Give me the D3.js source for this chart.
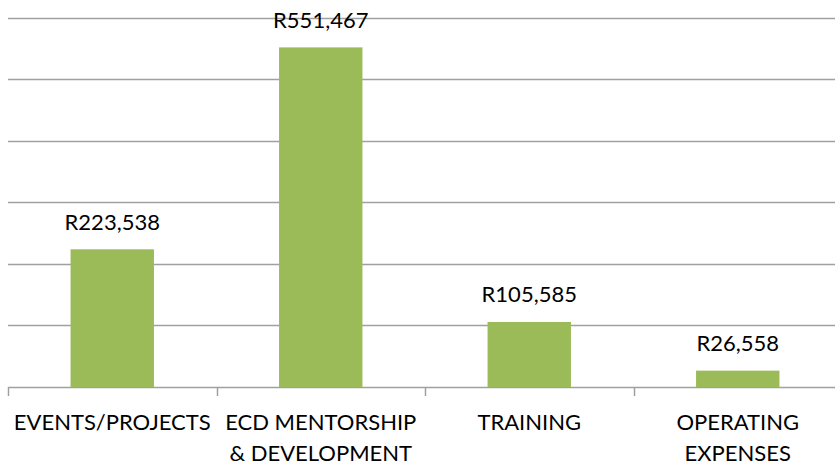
<!DOCTYPE html>
<html>
<head>
<meta charset="utf-8">
<script src="https://cdn.jsdelivr.net/npm/d3@7"></script>
<style>
  body { margin: 0; background: #fff; }
  text { font-family: Lato, "Open Sans", sans-serif; fill: #000; }
</style>
</head>
<body>
<div id="chart"></div>
<script>
/* DATA */
const categories = [["EVENTS/PROJECTS"], ["ECD MENTORSHIP", "& DEVELOPMENT"], ["TRAINING"], ["OPERATING", "EXPENSES"]];
const amounts = [223538, 551467, 105585, 26558];
const gridTicks = [0, 100000, 200000, 300000, 400000, 500000, 600000];

/* CONSTANTS */
const width = 835,
  height = 465,
  margin = { top: 17.5, bottom: 78, left: 8, right: -7 };
const fontSize = 22;
const formatRand = d => "R" + d3.format(",")(d);

const svg = d3.select("#chart")
  .append("svg")
  .attr("width", width)
  .attr("height", height);

// scales
const xScale = d3.scaleBand()
  .domain(d3.range(categories.length))
  .range([margin.left, width - margin.right])
  .paddingInner(0.6)
  .paddingOuter(0.3);

const yScale = d3.scaleLinear()
  .domain([0, 600000])
  .range([height - margin.bottom, margin.top]);

// gridlines
svg.selectAll(".grid")
  .data(gridTicks)
  .join("line")
  .attr("class", "grid")
  .attr("x1", margin.left)
  .attr("x2", width)
  .attr("y1", d => Math.round(yScale(d)) + 0.5)
  .attr("y2", d => Math.round(yScale(d)) + 0.5)
  .attr("stroke", "#a0a0a0")
  .attr("stroke-width", 1.5);

// category tick marks (between bands)
const step = xScale.step();
const tickXs = d3.range(categories.length + 1).map(i => margin.left + i * step);
svg.selectAll(".tick-mark")
  .data(tickXs)
  .join("line")
  .attr("class", "tick-mark")
  .attr("x1", d => Math.round(d) + 0.5)
  .attr("x2", d => Math.round(d) + 0.5)
  .attr("y1", yScale(0))
  .attr("y2", yScale(0) + 9)
  .attr("stroke", "#a0a0a0")
  .attr("stroke-width", 1.5);

// bars
svg.selectAll(".bar")
  .data(amounts)
  .join("rect")
  .attr("class", "bar")
  .attr("x", (d, i) => xScale(i))
  .attr("width", xScale.bandwidth())
  .attr("y", d => yScale(d))
  .attr("height", d => yScale(0) - yScale(d))
  .attr("fill", "#9bbb59");

// value labels
svg.selectAll(".value")
  .data(amounts)
  .join("text")
  .attr("class", "value")
  .attr("x", (d, i) => xScale(i) + xScale.bandwidth() / 2)
  .attr("y", d => yScale(d) - 19.5)
  .attr("text-anchor", "middle")
  .attr("font-size", fontSize)
  .text(d => formatRand(d));

// category labels
const catLabels = svg.selectAll(".cat")
  .data(categories)
  .join("text")
  .attr("class", "cat")
  .attr("text-anchor", "middle")
  .attr("font-size", fontSize)
  .attr("transform", (d, i) => `translate(${xScale(i) + xScale.bandwidth() / 2}, ${yScale(0) + 43})`);

catLabels.selectAll("tspan")
  .data(d => d)
  .join("tspan")
  .attr("x", 0)
  .attr("y", (d, i) => i * 31)
  .text(d => d);
</script>
</body>
</html>
